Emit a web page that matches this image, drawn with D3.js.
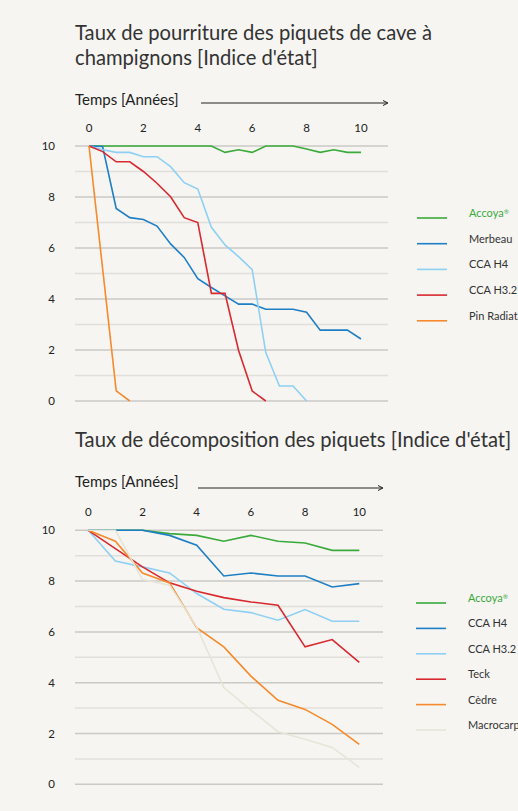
<!DOCTYPE html>
<html>
<head>
<meta charset="utf-8">
<script src="https://cdn.jsdelivr.net/npm/d3@7"></script>
<style>
  html, body { margin: 0; padding: 0; background: #f6f5f2; }
  svg { display: block; font-family: Lato, "Noto Sans", sans-serif; }
</style>
</head>
<body>
<svg width="518" height="811"></svg>
<script>
// --- data ---
const yearsTop = [0, 0.5, 1, 1.5, 2, 2.5, 3, 3.5, 4, 4.5, 5, 5.5, 6, 6.5, 7, 7.5, 8, 8.5, 9, 9.5, 10];
const accoyaTop = [10, 10, 10, 10, 10, 10, 10, 10, 10, 10, 9.75, 9.85, 9.75, 10, 10, 10, 9.88, 9.75, 9.85, 9.75, 9.75];
const merbeauTop = [10, 9.98, 7.55, 7.19, 7.12, 6.86, 6.16, 5.63, 4.8, 4.45, 4.12, 3.8, 3.8, 3.6, 3.6, 3.6, 3.48, 2.78, 2.78, 2.78, 2.43];
const ccaH4Top = [10, 9.85, 9.75, 9.75, 9.58, 9.58, 9.19, 8.56, 8.31, 6.81, 6.12, 5.66, 5.15, 1.9, 0.59, 0.59, 0, null, null, null, null];
const ccaH32Top = [10, 9.78, 9.38, 9.38, 9.0, 8.54, 8.01, 7.19, 7.0, 4.22, 4.22, 1.98, 0.39, 0, null, null, null, null, null, null, null];
const pinTop = [10, null, 0.4, 0, null, null, null, null, null, null, null, null, null, null, null, null, null, null, null, null, null];

const yearsBottom = [0, 1, 2, 3, 4, 5, 6, 7, 8, 9, 10];
const accoyaBottom = [10, 10, 10, 9.87, 9.8, 9.57, 9.8, 9.57, 9.5, 9.21, 9.21];
const ccaH4Bottom = [10, 10, 10, 9.8, 9.41, 8.2, 8.32, 8.2, 8.2, 7.77, 7.9];
const ccaH32Bottom = [10, 8.79, 8.56, 8.32, 7.51, 6.89, 6.76, 6.46, 6.88, 6.42, 6.42];
const teckBottom = [10, 9.28, 8.56, 7.93, 7.6, 7.35, 7.18, 7.05, 5.41, 5.7, 4.8];
const cedreBottom = [10, 9.57, 8.32, 7.93, 6.17, 5.41, 4.26, 3.31, 2.95, 2.36, 1.57];
const macrocarpaBottom = [10, 10, 8.06, 7.84, 6.2, 3.81, 2.92, 2.07, 1.77, 1.45, 0.67];

const xTicks = [0, 2, 4, 6, 8, 10];
const yTicks = [0, 2, 4, 6, 8, 10];
const titleTop = ["Taux de pourriture des piquets de cave à", "champignons [Indice d'état]"];
const titleBottom = ["Taux de décomposition des piquets [Indice d'état]"];
const axisLabel = "Temps [Années]";

const colors = {
    accoya: '#3aaa3a',
    darkBlue: '#1f7fc4',
    lightBlue: '#8ed0f4',
    red: '#d8292f',
    orange: '#f68a2c',
    beige: '#e7e5d6'
};

const svg = d3.select('svg');

function drawChart(cfg) {
    const g = svg.append('g');

    const xScale = d3.scaleLinear().domain([0, 10]).range([cfg.x0, cfg.x10]);
    const yScale = d3.scaleLinear().domain([0, 10]).range([cfg.y0, cfg.y10]);

    // title
    const title = g.append('text')
        .attr('x', 75)
        .attr('y', cfg.titleY)
        .style('font-size', '20.2px')
        .style('fill', '#333');
    cfg.title.forEach(function(line, i) {
        title.append('tspan')
            .attr('x', 75)
            .attr('dy', i === 0 ? 0 : 25)
            .text(line);
    });

    // time label + arrow
    g.append('text')
        .attr('x', 75)
        .attr('y', cfg.labelY)
        .style('font-size', '15px')
        .style('fill', '#222')
        .text(axisLabel);
    g.append('line')
        .attr('x1', cfg.arrowX1).attr('x2', cfg.arrowX2)
        .attr('y1', cfg.arrowY).attr('y2', cfg.arrowY)
        .attr('stroke', '#222').attr('stroke-width', 1);
    g.append('path')
        .attr('d', `M${cfg.arrowX2 - 4},${cfg.arrowY - 2.5}L${cfg.arrowX2 + 1},${cfg.arrowY}L${cfg.arrowX2 - 4},${cfg.arrowY + 2.5}`)
        .attr('fill', 'none')
        .attr('stroke', '#222').attr('stroke-width', 1);

    // gridlines (major at even, minor at odd)
    g.append('g')
        .selectAll('line')
        .data(d3.range(0, 11))
        .enter()
        .append('line')
        .attr('x1', 75).attr('x2', cfg.gridX2)
        .attr('y1', d => yScale(d)).attr('y2', d => yScale(d))
        .attr('stroke', d => d % 2 === 0 ? '#cbc9c4' : '#e0dfda')
        .attr('stroke-width', 1.5);

    // x tick labels
    g.append('g')
        .selectAll('text')
        .data(xTicks)
        .enter()
        .append('text')
        .attr('x', d => xScale(d))
        .attr('y', cfg.xTickY)
        .style('text-anchor', 'middle')
        .style('font-size', '11.5px')
        .style('fill', '#222')
        .text(d => d);

    // y tick labels
    g.append('g')
        .selectAll('text')
        .data(yTicks)
        .enter()
        .append('text')
        .attr('x', 55)
        .attr('y', d => yScale(d))
        .attr('dy', '0.35em')
        .style('text-anchor', 'end')
        .style('font-size', '11.5px')
        .style('fill', '#222')
        .text(d => d);

    const line = d3.line()
        .x(d => xScale(d[0]))
        .y(d => yScale(d[1]));

    cfg.series.forEach(function(s, k) {
        const pts = cfg.years.map((t, i) => [t, s.values[i]]).filter(p => p[1] != null);
        g.append('path')
            .datum(pts)
            .attr('d', line)
            .attr('fill', 'none')
            .attr('stroke', s.color)
            .attr('stroke-width', 1.6)
            .attr('stroke-linejoin', 'miter');

        // legend (labels run off the right edge, as in the reference)
        const ly = cfg.legendY + k * cfg.legendStep;
        g.append('line')
            .attr('x1', cfg.legendX).attr('x2', cfg.legendX + 30)
            .attr('y1', ly).attr('y2', ly)
            .attr('stroke', s.color).attr('stroke-width', 1.6);
        const lt = g.append('text')
            .attr('x', cfg.legendX + 52)
            .attr('y', ly)
            .attr('dy', '-0.1em')
            .style('font-size', '11px')
            .style('fill', s.textColor || '#333')
            .text(s.name);
        if (s.reg) {
            lt.append('tspan')
                .attr('dy', '-0.45em')
                .style('font-size', '6.5px')
                .text('®');
        }
    });
}

drawChart({
    title: titleTop, titleY: 40,
    labelY: 105, arrowX1: 201, arrowX2: 387, arrowY: 103,
    x0: 89, x10: 361, y0: 401, y10: 146, gridX2: 388, xTickY: 132,
    years: yearsTop,
    legendX: 417, legendY: 218, legendStep: 25.7,
    series: [
        { name: 'Accoya', reg: true, values: accoyaTop, color: colors.accoya, textColor: colors.accoya },
        { name: 'Merbeau', values: merbeauTop, color: colors.darkBlue },
        { name: 'CCA H4', values: ccaH4Top, color: colors.lightBlue },
        { name: 'CCA H3.2', values: ccaH32Top, color: colors.red },
        { name: 'Pin Radiata', values: pinTop, color: colors.orange }
    ]
});

drawChart({
    title: titleBottom, titleY: 447,
    labelY: 487, arrowX1: 198, arrowX2: 382, arrowY: 488,
    x0: 88.3, x10: 359.3, y0: 784.3, y10: 530.3, gridX2: 383, xTickY: 516,
    years: yearsBottom,
    legendX: 416, legendY: 603, legendStep: 25.4,
    series: [
        { name: 'Accoya', reg: true, values: accoyaBottom, color: colors.accoya, textColor: colors.accoya },
        { name: 'CCA H4', values: ccaH4Bottom, color: colors.darkBlue },
        { name: 'CCA H3.2', values: ccaH32Bottom, color: colors.lightBlue },
        { name: 'Teck', values: teckBottom, color: colors.red },
        { name: 'Cèdre', values: cedreBottom, color: colors.orange },
        { name: 'Macrocarpa', values: macrocarpaBottom, color: colors.beige }
    ]
});
</script>
</body>
</html>
